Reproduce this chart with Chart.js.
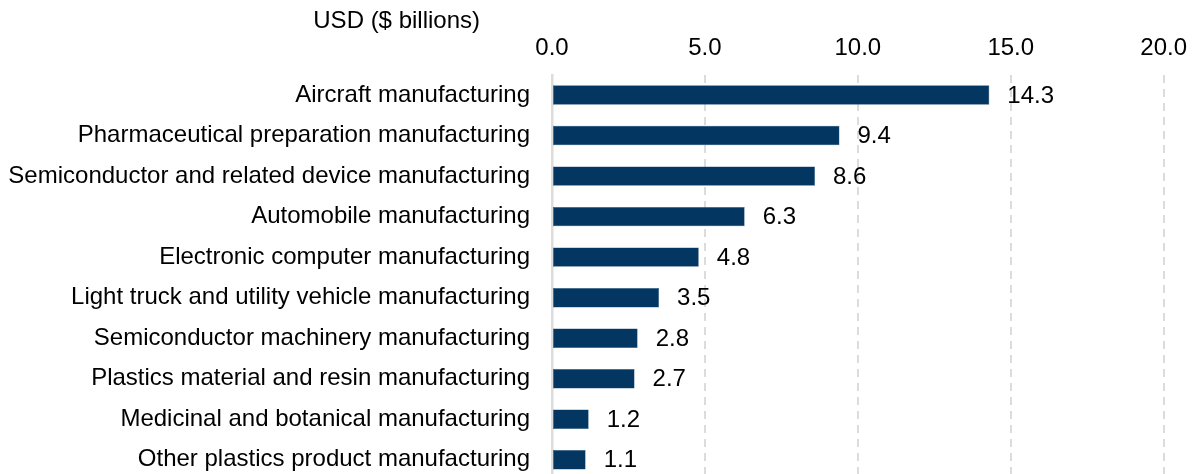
<!DOCTYPE html>
<html>
<head>
<meta charset="utf-8">
<script src="https://cdn.jsdelivr.net/npm/chart.js@4.4.1/dist/chart.umd.min.js"></script>
<style>
    html, body { margin: 0; padding: 0; background: #fff; overflow: hidden; }
    .chart-box { position: relative; width: 1199px; height: 480px; }
</style>
</head>
<body>
<div class="chart-box"><canvas id="chart1"></canvas></div>
<script>
var industries = [
    'Aircraft manufacturing',
    'Pharmaceutical preparation manufacturing',
    'Semiconductor and related device manufacturing',
    'Automobile manufacturing',
    'Electronic computer manufacturing',
    'Light truck and utility vehicle manufacturing',
    'Semiconductor machinery manufacturing',
    'Plastics material and resin manufacturing',
    'Medicinal and botanical manufacturing',
    'Other plastics product manufacturing'
];
var usdBillions = [14.3, 9.4, 8.6, 6.3, 4.8, 3.5, 2.8, 2.7, 1.2, 1.1];
var xTicks = [0, 5, 10, 15, 20];
var unitLabel = 'USD ($ billions)';

var font = "'Liberation Sans', Arial, sans-serif";
var labelGap = 22;

// value next to each bar + unit caption above the labels
var barValues = {
    id: 'barValues',
    afterDatasetsDraw: function(chart) {
        var c = chart.ctx;
        c.save();
        c.font = '24px ' + font;
        c.fillStyle = '#000';
        c.textBaseline = 'middle';
        c.textAlign = 'left';
        chart.getDatasetMeta(0).data.forEach(function(bar, i) {
            c.fillText(usdBillions[i].toFixed(1), bar.x + 18, bar.y + 1);
        });
        c.textAlign = 'right';
        c.fillText(unitLabel, chart.chartArea.left - 72, 21);
        c.restore();
    }
};

var ctx = document.getElementById('chart1').getContext('2d');
var myChart = new Chart(ctx, {
    type: 'bar',
    data: {
        labels: industries,
        datasets: [{
            data: usdBillions,
            backgroundColor: '#033762',
            borderColor: '#2b5a85',
            borderWidth: 0.5,
            borderSkipped: false
        }]
    },
    options: {
        indexAxis: 'y',
        responsive: true,
        maintainAspectRatio: false,
        animation: false,
        categoryPercentage: 1,
        barPercentage: 0.48,
        layout: {
            padding: { top: 22, right: 34, left: 8, bottom: 0 }
        },
        plugins: {
            legend: { display: false },
            tooltip: { enabled: false }
        },
        scales: {
            x: {
                position: 'top',
                min: 0,
                max: 20,
                afterBuildTicks: function(scale) {
                    scale.ticks = xTicks.map(function(v) { return { value: v }; });
                },
                ticks: {
                    color: '#000',
                    padding: 12,
                    font: { family: font, size: 24 },
                    callback: function(v) { return Number(v).toFixed(1); }
                },
                grid: {
                    drawTicks: false,
                    lineWidth: 2,
                    color: function(c) { return c.index === 0 ? 'rgba(0,0,0,0)' : '#dcdcdc'; }
                },
                border: { display: false, dash: [8, 6] }
            },
            y: {
                // width = widest label + gap, no extra space above/below the bands
                afterFit: function(scale) {
                    var c = scale.ctx;
                    c.save();
                    c.font = '24px ' + font;
                    var widest = Math.max.apply(null, industries.map(function(s) { return c.measureText(s).width; }));
                    c.restore();
                    scale.width = Math.ceil(widest) + labelGap;
                    scale.paddingTop = 0;
                    scale.paddingBottom = 0;
                },
                ticks: {
                    color: '#000',
                    padding: labelGap,
                    font: { family: font, size: 24 }
                },
                grid: { display: false, drawTicks: false },
                border: { display: true, color: '#dcdcdc', width: 2.5 }
            }
        }
    },
    plugins: [barValues]
});
</script>
</body>
</html>
